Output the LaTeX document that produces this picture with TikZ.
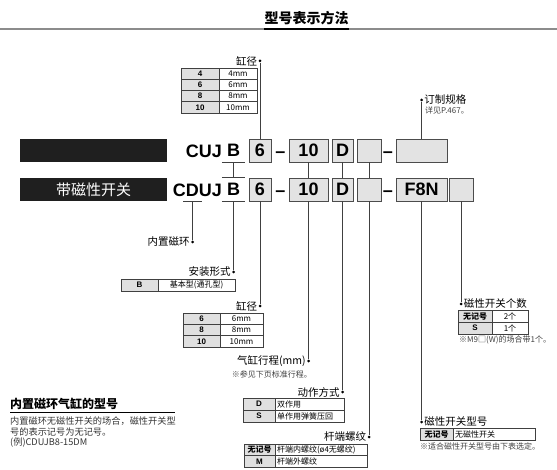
\documentclass[tikz,border=0pt]{standalone}
\usepackage{fontspec}
\setmainfont{Liberation Sans}
\newfontfamily\cjk{Noto Sans CJK SC}
\usetikzlibrary{positioning}

\begin{document}
\begin{tikzpicture}[x=1pt,y=-1pt,
    codebox/.style={draw=black!70,fill=black!11,line width=0.8pt,minimum height=23pt,inner sep=0pt,font=\fontsize{18}{18}\selectfont\bfseries},
    codetxt/.style={inner sep=0pt,font=\fontsize{18}{18}\selectfont\bfseries},
    keycell/.style={draw=black!75,fill=black!12,line width=0.6pt,inner sep=0pt,font=\fontsize{8}{8}\selectfont\bfseries},
    valcell/.style={draw=black!75,fill=white,line width=0.6pt,inner sep=0pt,font=\cjk\fontsize{8}{8}\selectfont},
    tag/.style={inner sep=1pt,font=\cjk\fontsize{10.5}{10.5}\selectfont},
    note/.style={inner sep=0pt,font=\cjk\fontsize{8}{8}\selectfont,text=black!75},
    dot/.style={circle,fill=black,inner sep=0pt,minimum size=3pt},
    lead/.style={draw=black!75,line width=0.6pt}]
    \useasboundingbox (0,0) rectangle (557,470);

    % title
    \coordinate (rule) at (0,29);
    \node[inner sep=0pt,font=\cjk\fontsize{14}{14}\selectfont\bfseries] (title) at (306.5,18) {型号表示方法};
    \draw[black!45,line width=2.5pt] (rule) -- (557,29);
    \draw[black,line width=2.5pt] (title.west |- rule) -- (title.east |- rule);

    % black bars
    \node[fill=black!88,minimum width=147,minimum height=23,inner sep=0pt] (bar1) at (93.5,150.5) {};
    \node[fill=black!88,minimum width=147,minimum height=23,inner sep=0pt,text=white,font=\cjk\fontsize{15}{15}\selectfont] (bar2) at (93.5,189.5) {带磁性开关};

    % code row without switch
    \node[codetxt,anchor=base east] (cuj) at (222,158) {CUJ};
    \node[codetxt,minimum width=23,minimum height=23] (Ba) at (233.5,150.5) {B};
    \node[codebox,minimum width=22] (b6a) at (260,150.5) {6};
    \node[codetxt,anchor=base] (dash1a) at (280.5,158) {–};
    \node[codebox,minimum width=39] (b10a) at (308.5,150.5) {10};
    \node[codebox,minimum width=21] (bDa) at (342.5,150.5) {D};
    \node[codebox,minimum width=24] (bEa) at (369,150.5) {};
    \node[codetxt,anchor=base] (dash2a) at (388,158) {–};
    \node[codebox,minimum width=51] (bXa) at (421.5,150.5) {};

    % code row with switch
    \node[codetxt,anchor=base east] (cduj) at (222,197) {CDUJ};
    \node[codetxt,minimum width=23,minimum height=23] (Bb) at (233.5,189.5) {B};
    \node[codebox,minimum width=22] (b6b) at (260,189.5) {6};
    \node[codetxt,anchor=base] (dash1b) at (280.5,197) {–};
    \node[codebox,minimum width=39] (b10b) at (308.5,189.5) {10};
    \node[codebox,minimum width=21] (bDb) at (342.5,189.5) {D};
    \node[codebox,minimum width=24] (bEb) at (369,189.5) {};
    \node[codetxt,anchor=base] (dash2b) at (388,197) {–};
    \node[codebox,minimum width=51] (bF8N) at (421.5,189.5) {F8N};
    \node[codebox,minimum width=24] (bNum) at (461,189.5) {};

    % under/over lines and links between rows
    \draw[lead] (Ba.south west) -- (Ba.south east);
    \draw[lead] (Bb.north west) -- (Bb.north east);
    \draw[lead] (Bb.south west) -- (Bb.south east);
    \draw[lead] (Ba.south) -- (Bb.north);
    \draw[lead] (b10a) -- (b10b);
    \draw[lead] (bDa) -- (bDb);
    \draw[lead] (bEa) -- (bEb);
    \coordinate (ringL) at (183,201.5);
    \coordinate (ringR) at (202,201.5);
    \coordinate (ringU) at (192.5,201.5);
    \draw[lead] (ringL) -- (ringR);

    % dots
    \node[dot] (dBore1) at (260,61) {};
    \node[dot] (dCustom) at (421.5,100) {};
    \node[dot] (dRing) at (192.5,242) {};
    \node[dot] (dMount) at (233.5,272) {};
    \node[dot] (dBore2) at (260,306) {};
    \node[dot] (dStroke) at (308.5,361) {};
    \node[dot] (dAct) at (342.5,392) {};
    \node[dot] (dRod) at (369,437) {};
    \node[dot] (dSw) at (421.5,422) {};
    \node[dot] (dNum) at (461,304) {};

    % leaders
    \draw[lead] (b6a.north) -- (dBore1);
    \draw[lead] (bXa.north) -- (dCustom);
    \draw[lead] (ringU) -- (dRing);
    \draw[lead] (Bb.south) -- (dMount);
    \draw[lead] (b6b.south) -- (dBore2);
    \draw[lead] (b10b.south) -- (dStroke);
    \draw[lead] (bDb.south) -- (dAct);
    \draw[lead] (bEb.south) -- (dRod);
    \draw[lead] (bF8N.south) -- (dSw);
    \draw[lead] (bNum.south) -- (dNum);

    % labels
    \node[tag,left=0pt of dBore1] (lBore1) {缸径};
    \node[tag,right=0pt of dCustom] (lCustom) {订制规格};
    \node[note,anchor=west] (nCustom) at (425,110) {详见P.467。};
    \node[tag,left=0pt of dRing] (lRing) {内置磁环};
    \node[tag,left=0pt of dMount] (lMount) {安装形式};
    \node[tag,left=0pt of dBore2] (lBore2) {缸径};
    \node[tag,left=0pt of dStroke] (lStroke) {气缸行程(mm)};
    \node[note,anchor=east] (nStroke) at (312,374) {※参见下页标准行程。};
    \node[tag,left=0pt of dAct] (lAct) {动作方式};
    \node[tag,left=0pt of dRod] (lRod) {杆端螺纹};
    \node[tag,right=0pt of dSw] (lSw) {磁性开关型号};
    \node[note,anchor=west] (nSw) at (420,446.5) {※适合磁性开关型号由下表选定。};
    \node[tag,right=0pt of dNum] (lNum) {磁性开关个数};
    \node[note,anchor=west] (nNum) at (459,340) {※M9□(W)的场合带1个。};

    % tables
    \foreach \y/\k/\v [count=\i] in {73.6/4/4mm,84.9/6/6mm,96.1/8/8mm,107.4/10/10mm} {
        \node[keycell,minimum width=38,minimum height=11.25] (boreK\i) at (200,\y) {\k};
        \node[valcell,minimum width=38,minimum height=11.25] (boreV\i) at (238,\y) {\v};
    }
    \node[keycell,minimum width=37,minimum height=12] (mountK) at (139.5,285) {B};
    \node[valcell,minimum width=77,minimum height=12] (mountV) at (196.5,285) {基本型(通孔型)};
    \foreach \y/\k/\v [count=\i] in {318.7/6/6mm,330/8/8mm,341.3/10/10mm} {
        \node[keycell,minimum width=37,minimum height=11.33] (boreBK\i) at (201.5,\y) {\k};
        \node[valcell,minimum width=43,minimum height=11.33] (boreBV\i) at (241.5,\y) {\v};
    }
    \foreach \y/\k/\v [count=\i] in {404/D/双作用,416/S/单作用弹簧压回} {
        \node[keycell,minimum width=32,minimum height=12] (actK\i) at (259,\y) {\k};
        \node[valcell,text width=65,inner xsep=2pt,align=left,minimum height=12] (actV\i) at (309.5,\y) {\v};
    }
    \foreach \y/\k/\v [count=\i] in {449.75/{\cjk 无记号}/杆端内螺纹(ø4无螺纹),461.25/M/杆端外螺纹} {
        \node[keycell,minimum width=31,minimum height=11.5] (rodK\i) at (259.5,\y) {\k};
        \node[valcell,text width=88,inner xsep=2pt,align=left,minimum height=11.5] (rodV\i) at (321,\y) {\v};
    }
    \node[keycell,minimum width=33,minimum height=12] (swK) at (436.5,434) {\cjk 无记号};
    \node[valcell,text width=78,inner xsep=2pt,align=left,minimum height=12] (swV) at (494,434) {无磁性开关};
    \foreach \y/\k/\v [count=\i] in {316/{\cjk 无记号}/2个,328/S/1个} {
        \node[keycell,minimum width=34,minimum height=12] (numK\i) at (475,\y) {\k};
        \node[valcell,minimum width=36,minimum height=12] (numV\i) at (510,\y) {\v};
    }

    % built-in magnet note
    \node[anchor=west,inner sep=0pt,font=\cjk\fontsize{12}{12}\selectfont\bfseries] (ringHead) at (10,403.5) {内置磁环气缸的型号};
    \draw[line width=0.8pt] (10,412) -- (175,412);
    \node[anchor=north west,align=left,inner sep=0pt,font=\cjk\fontsize{9.2}{10.5}\selectfont,text=black!80] (ringText) at (10,417)
        {内置磁环无磁性开关的场合，磁性开关型\\号的表示记号为无记号。\\(例)CDUJB8-15DM};
\end{tikzpicture}
\end{document}
